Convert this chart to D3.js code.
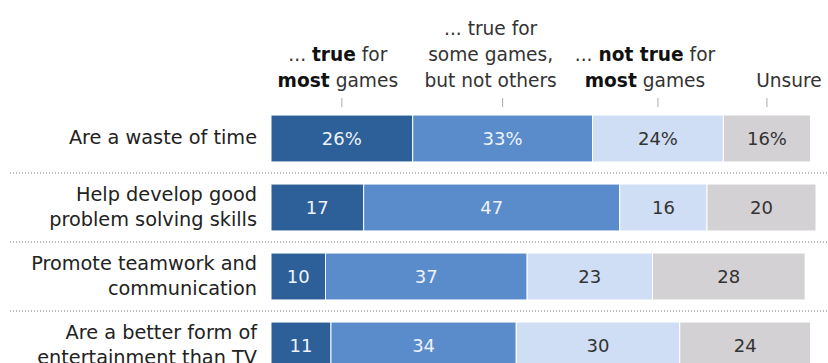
<!DOCTYPE html>
<html>
<head>
<meta charset="utf-8">
<script src="https://cdn.jsdelivr.net/npm/d3@7"></script>
<style>
  body { margin: 0; background: #fff; }
  text { font-family: "DejaVu Sans", sans-serif; }
</style>
</head>
<body>
<div id="chart"></div>
<script>
// data
var items = [
  ["Are a waste of time"],
  ["Help develop good", "problem solving skills"],
  ["Promote teamwork and", "communication"],
  ["Are a better form of", "entertainment than TV"]
];
var keys = ["most", "some", "notMost", "unsure"];
var trueMost = [26, 17, 10, 11];
var trueSome = [33, 47, 37, 34];
var notTrueMost = [24, 16, 23, 30];
var unsure = [16, 20, 28, 24];

// column headers: each line is a list of [text, bold]
var headers = [
  [[["... ", false], ["true", true], [" for", false]], [["most", true], [" games", false]]],
  [[["... true for", false]], [["some games,", false]], [["but not others", false]]],
  [[["... ", false], ["not true", true], [" for", false]], [["most", true], [" games", false]]],
  [[["Unsure", false]]]
];

var colors = ["#2d6099", "#5a8bcb", "#cfdef4", "#d3d1d3"];
var textColors = ["#eef3fa", "#eef3fa", "#333", "#333"];
// headers sit a little off their ticks in the original
var headerNudge = [-4, -12, -13, 22];

var width = 828, height = 363;

var rows = items.map(function(d, i) {
  return {id: i, most: trueMost[i], some: trueSome[i], notMost: notTrueMost[i], unsure: unsure[i]};
});

var svg = d3.select("#chart")
  .append("svg")
  .attr("width", width)
  .attr("height", height);

var x = d3.scaleLinear().domain([0, 100]).range([271, 816]);
var y = d3.scaleBand()
  .domain(rows.map(function(d) { return d.id; }))
  .range([104, 104 + 4 * 69])
  .paddingInner(0.32)
  .paddingOuter(0.16);

var series = d3.stack().keys(keys)(rows);

// dotted separators between rows
var gap = y.step() - y.bandwidth();
svg.append("g")
  .selectAll("line")
  .data(rows.slice(0, rows.length - 1))
  .enter()
  .append("line")
    .attr("x1", 10)
    .attr("x2", width)
    .attr("y1", function(d) { return y(d.id) + y.bandwidth() + gap / 2; })
    .attr("y2", function(d) { return y(d.id) + y.bandwidth() + gap / 2; })
    .attr("stroke", "#bdbdbd")
    .attr("stroke-width", 2)
    .attr("stroke-dasharray", "1 2");

// bars
var layer = svg.append("g")
  .selectAll("g")
  .data(series)
  .enter()
  .append("g");

layer.selectAll("rect")
  .data(function(s) { return s; })
  .enter()
  .append("rect")
    .attr("x", function(d) { return x(d[0]); })
    .attr("y", function(d) { return y(d.data.id); })
    .attr("width", function(d) { return x(d[1]) - x(d[0]); })
    .attr("height", y.bandwidth())
    .attr("fill", function(d, i, n) { return colors[d3.select(n[i].parentNode).datum().index]; })
    .attr("stroke", "#fff")
    .attr("stroke-width", 1);

// value labels
layer.selectAll("text")
  .data(function(s) { return s.map(function(d) { d.k = s.index; return d; }); })
  .enter()
  .append("text")
    .attr("x", function(d) { return (x(d[0]) + x(d[1])) / 2; })
    .attr("y", function(d) { return y(d.data.id) + y.bandwidth() / 2; })
    .attr("dy", "0.36em")
    .attr("text-anchor", "middle")
    .attr("font-size", "18px")
    .attr("fill", function(d) { return textColors[d.k]; })
    .text(function(d) { return (d[1] - d[0]) + (d.data.id === 0 ? "%" : ""); });

// row labels
var lineH = 25;
svg.append("g")
  .selectAll("text")
  .data(items)
  .enter()
  .append("text")
    .attr("text-anchor", "end")
    .attr("font-size", "19.3px")
    .attr("fill", "#222")
    .each(function(lines, i) {
      var cy = y(i) + y.bandwidth() / 2 - (lines.length - 1) * lineH / 2 - 1;
      d3.select(this).selectAll("tspan")
        .data(lines)
        .enter()
        .append("tspan")
          .attr("x", 257)
          .attr("y", function(l, j) { return cy + j * lineH; })
          .attr("dy", "0.36em")
          .text(function(l) { return l; });
    });

// column headers over the first row's segments
var first = series.map(function(s) { return (x(s[0][0]) + x(s[0][1])) / 2; });

svg.append("g")
  .selectAll("line")
  .data(first)
  .enter()
  .append("line")
    .attr("x1", function(d) { return d; })
    .attr("x2", function(d) { return d; })
    .attr("y1", 98)
    .attr("y2", 107)
    .attr("stroke", "#aaa")
    .attr("stroke-width", 1);

var headerBase = 87, headerLine = 26;
svg.append("g")
  .selectAll("text")
  .data(headers)
  .enter()
  .append("text")
    .attr("text-anchor", "middle")
    .attr("font-size", "18.6px")
    .attr("fill", "#333")
    .each(function(lines, i) {
      var t = d3.select(this);
      lines.forEach(function(parts, j) {
        var yy = headerBase - (lines.length - 1 - j) * headerLine;
        parts.forEach(function(p, k) {
          var ts = t.append("tspan")
            .attr("font-weight", p[1] ? "bold" : "normal")
            .attr("fill", p[1] ? "#111" : "#333")
            .text(p[0]);
          if (k === 0) ts.attr("x", first[i] + headerNudge[i]).attr("y", yy);
        });
      });
    });
</script>
</body>
</html>
